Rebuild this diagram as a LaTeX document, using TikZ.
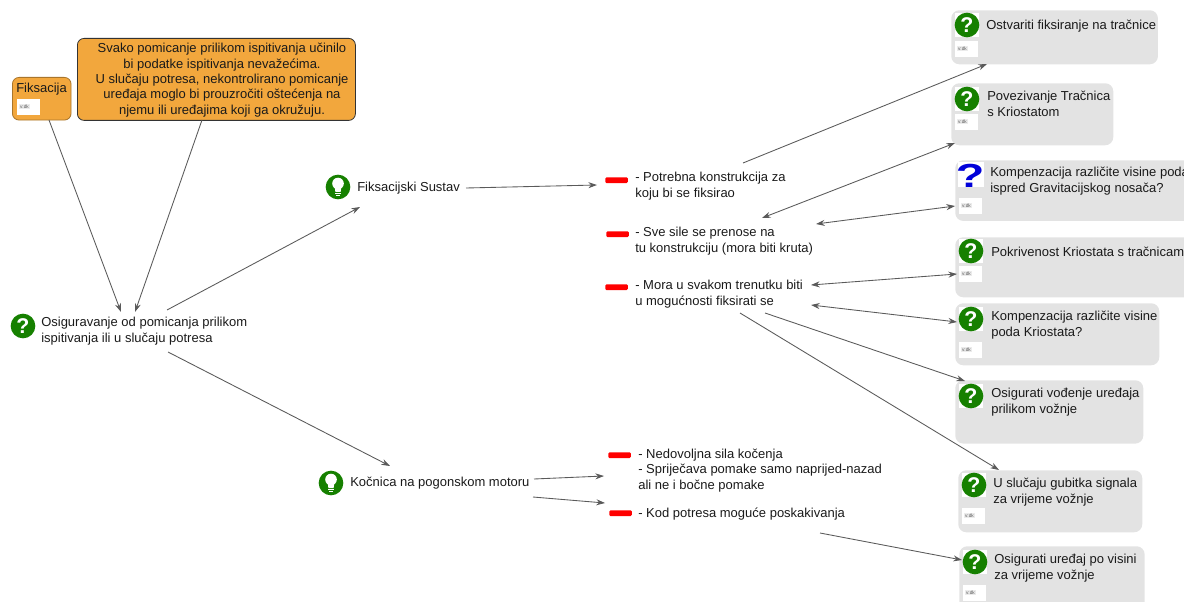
\documentclass[tikz,border=0pt]{standalone}
\usepackage{fontspec}
\setmainfont{Liberation Sans}
\usetikzlibrary{arrows.meta}
\definecolor{gboxc}{HTML}{E3E3E3}
\definecolor{orangec}{HTML}{F2A73D}
\definecolor{iconc}{HTML}{168000}
\definecolor{linec}{HTML}{5A5A5A}
\definecolor{textc}{HTML}{1A1A1A}
\tikzset{
  txt/.style={anchor=north west,inner sep=0pt,align=left,text=textc,font=\fontsize{9.75}{11.8}\selectfont},
  gbox/.style={anchor=north west,fill=gboxc,rounded corners=6pt,inner sep=0pt,minimum width=#1},
  obox/.style={anchor=north west,fill=orangec,rounded corners=5pt,inner sep=0pt},
  rbar/.style={anchor=north west,fill=red,rounded corners=1pt,inner sep=0pt,minimum width=17pt,minimum height=4.4pt},
  wsq/.style={fill=white,inner sep=0pt,minimum size=18.5pt},
  qic/.style={circle,fill=iconc,inner sep=0pt,minimum size=18.5pt,text=white,font=\bfseries\fontsize{16}{16}\selectfont},
  mini/.style={anchor=north west,fill=white,inner sep=0pt,minimum width=17pt,minimum height=11.5pt},
  conn/.style={draw=linec,line width=0.65pt,-{Stealth[length=6.5pt,width=4.5pt]}},
  dconn/.style={draw=linec,line width=0.65pt,{Stealth[length=6.5pt,width=4.5pt]}-{Stealth[length=6.5pt,width=4.5pt]}},
}
\newcommand{\qicon}[3]{\node[wsq] at (#2,#3) {};\node[qic] (#1) at (#2,#3) {?};}
\newcommand{\bulbicon}[3]{%
  \node[qic] (#1) at (#2,#3) {};
  \fill[white] (#2,#3-3.5) circle (5.8);
  \fill[white] (#2-3.4,#3-0.5) -- (#2+3.4,#3-0.5) -- (#2+2.6,#3+5) -- (#2-2.6,#3+5) -- cycle;
  \fill[white] (#2-2.6,#3+6) rectangle (#2+2.6,#3+7.2);
  \fill[white] (#2-1.6,#3+8) rectangle (#2+1.6,#3+9);
}
\newcommand{\minibox}[3]{\node[mini] (#1) at (#2,#3) {};
  \node[anchor=west,fill=black!8,inner sep=0.6pt,text=black!65,font=\fontsize{3.6}{4}\selectfont] at (#2+2,#3+7.5) {v:dk};}
\begin{document}
\begin{tikzpicture}[x=0.75pt,y=-0.75pt]
\useasboundingbox (0,0) rectangle (1184,602);
\clip (0,0) rectangle (1184,602);
% gray boxes
\node[gbox=155pt,minimum height=40.5pt] (b1) at (951,10) {};
\node[gbox=121.5pt,minimum height=46.5pt] (b2) at (951,83) {};
\node[gbox=190pt,minimum height=45.5pt] (b3) at (955,160) {};
\node[gbox=190pt,minimum height=45pt] (b4) at (955,237) {};
\node[gbox=153pt,minimum height=46.5pt] (b5) at (955,303) {};
\node[gbox=141pt,minimum height=47.5pt] (b6) at (955,380) {};
\node[gbox=138pt,minimum height=46.5pt] (b7) at (958,470) {};
\node[gbox=139pt,minimum height=50pt] (b8) at (959,546) {};
% icons & minis
\qicon{q1}{967}{25}\minibox{m1}{955}{41}
\qicon{q2}{967}{99}\minibox{m2}{955}{114}
\node[wsq,minimum size=19pt] at (971,174.5) {};
\node[inner sep=0pt,text=blue!85!black,font=\bfseries\fontsize{25}{25}\selectfont] (q3) at (970,176) {\scalebox{1.4}[1]{?}};
\minibox{m3}{959}{198}
\qicon{q4}{971}{251}\minibox{m4}{959}{266}
\qicon{q5}{971}{319}\minibox{m5}{959}{342}
\qicon{q6}{971}{396}
\qicon{q7}{974}{485}\minibox{m7}{962}{508}
\qicon{q8}{975}{562}\minibox{m8}{963}{585}
\qicon{q0}{23}{326}
\bulbicon{bu1}{338}{187}
\bulbicon{bu2}{331}{483}
% box titles
\node[txt] (t1) at (986,19.5) {Ostvariti fiksiranje na tračnice};
\node[txt] (t2) at (987,91) {Povezivanje Tračnica\\s Kriostatom};
\node[txt] (t3) at (990,167) {Kompenzacija različite visine poda\\ispred Gravitacijskog nosača?};
\node[txt] (t4) at (991,246.5) {Pokrivenost Kriostata s tračnicama};
\node[txt] (t5) at (991,311) {Kompenzacija različite visine\\poda Kriostata?};
\node[txt] (t6) at (991,388) {Osigurati vođenje uređaja\\prilikom vožnje};
\node[txt] (t7) at (993,478) {U slučaju gubitka signala\\za vrijeme vožnje};
\node[txt] (t8) at (994,554) {Osigurati uređaj po visini\\za vrijeme vožnje};
% orange boxes
\node[obox,draw=black!30!orangec,line width=0.6pt,minimum width=44pt,minimum height=32pt] (fik) at (12,77) {};
\node[txt] (fikt) at (16,83) {Fiksacija};
\minibox{fikm}{17}{99}
\node[obox,draw=black!80,line width=0.6pt,minimum width=208.5pt,minimum height=61.5pt] (nap) at (77,38) {};
\node[anchor=center,inner sep=0pt,align=center,text=textc,font=\fontsize{9.75}{11.5}\selectfont] (napt) at (222,80) {Svako pomicanje prilikom ispitivanja učinilo\\bi podatke ispitivanja nevažećima.\\U slučaju potresa, nekontrolirano pomicanje\\uređaja moglo bi prouzročiti oštećenja na\\njemu ili uređajima koji ga okružuju.};
% main texts
\node[txt] (osig) at (41,317) {Osiguravanje od pomicanja prilikom\\ispitivanja ili u slučaju potresa};
\node[txt] (sus) at (357,182) {Fiksacijski Sustav};
\node[txt] (koc) at (350,477) {Kočnica na pogonskom motoru};
\node[rbar] (r1) at (605,177) {};
\node[rbar] (r2) at (606,231) {};
\node[rbar] (r3) at (605,284) {};
\node[rbar] (r4) at (608,452) {};
\node[rbar] (r5) at (609,510) {};
\node[txt] (p1) at (635,172) {- Potrebna konstrukcija za\\koju bi se fiksirao};
\node[txt] (p2) at (635,227) {- Sve sile se prenose na\\tu konstrukciju (mora biti kruta)};
\node[txt] (p3) at (635,280) {- Mora u svakom trenutku biti\\u mogućnosti fiksirati se};
\node[txt] (p4) at (638,448.5) {- Nedovoljna sila kočenja\\- Spriječava pomake samo naprijed-nazad\\ali ne i bočne pomake};
\node[txt] (p5) at (638,508) {- Kod potresa moguće poskakivanja};
% connectors
\draw[conn] ([shift={(37,43)}]fik.north west) -- ([shift={(80,-5)}]osig.north west);
\draw[conn] ([shift={(125,82)}]nap.north west) -- ([shift={(94,-5)}]osig.north west);
\draw[conn] ([shift={(126,-7)}]osig.north west) -- ([shift={(3,25)}]sus.north west);
\draw[conn] ([shift={(127,35)}]osig.north west) -- ([shift={(40,-11)}]koc.north west);
\draw[conn] ([shift={(109,6)}]sus.north west) -- ([shift={(-38,13)}]p1.north west);
\draw[conn] ([shift={(108,-9)}]p1.north west) -- ([shift={(36,54)}]b1.north west);
\draw[dconn] ([shift={(127,-9)}]p2.north west) -- ([shift={(4,60)}]b2.north west);
\draw[dconn] ([shift={(181,-3)}]p2.north west) -- ([shift={(0,46)}]b3.north west);
\draw[dconn] ([shift={(176,5)}]p3.north west) -- ([shift={(2,37)}]b4.north west);
\draw[dconn] ([shift={(176,25)}]p3.north west) -- ([shift={(2,19)}]b5.north west);
\draw[conn] ([shift={(130,33)}]p3.north west) -- ([shift={(10,1)}]b6.north west);
\draw[conn] ([shift={(105,33)}]p3.north west) -- ([shift={(41,0)}]b7.north west);
\draw[conn] ([shift={(184,2)}]koc.north west) -- ([shift={(-34,27.5)}]p4.north west);
\draw[conn] ([shift={(183,20)}]koc.north west) -- ([shift={(-33,-5)}]p5.north west);
\draw[conn] ([shift={(182,25)}]p5.north west) -- ([shift={(3,14)}]b8.north west);
\end{tikzpicture}
\end{document}
